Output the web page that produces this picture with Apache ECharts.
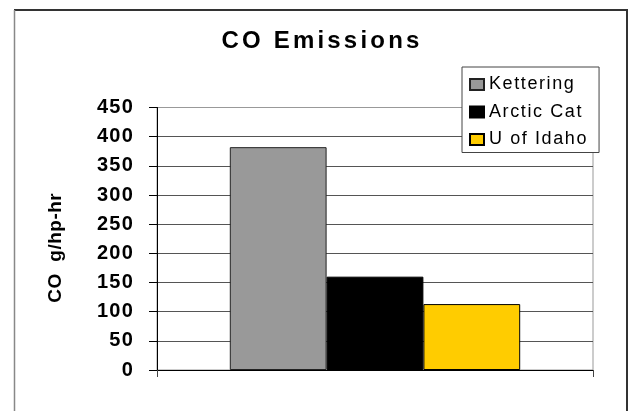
<!DOCTYPE html>
<html>
<head>
<meta charset="utf-8">
<script src="https://cdn.jsdelivr.net/npm/echarts@6/dist/echarts.min.js"></script>
<style>
  html, body { margin: 0; padding: 0; background: #fff; }
  #chart { width: 630px; height: 411px; }
</style>
</head>
<body>
<div id="chart"></div>
<script>
// ---- data ----
const categories = [''];
const seriesNames = ['Kettering', 'Arctic Cat', 'U of Idaho'];
const kettering = [382];
const arcticCat = [160];
const uOfIdaho = [113];
const yTicks = { min: 0, max: 450, interval: 50 };
const titleText = 'CO Emissions';
const yAxisName = 'CO  g/hp-hr';

// letter spacing to mimic the stretched look of the original (by font size)
const SPACING = { 24: 3.2, 18: 1.6, 20: 1.2, 19: 0.5 };
const origFill = CanvasRenderingContext2D.prototype.fillText;
CanvasRenderingContext2D.prototype.fillText = function (t, x, y, w) {
  const m = /(\d+(?:\.\d+)?)px/.exec(this.font);
  const s = m ? parseFloat(m[1]) : 0;
  if ('letterSpacing' in this) this.letterSpacing = (SPACING[s] || 0) + 'px';
  return w === undefined ? origFill.call(this, t, x, y) : origFill.call(this, t, x, y, w);
};

const FONT = 'Liberation Sans, Arial, sans-serif';
const chart = echarts.init(document.getElementById('chart'), null, { renderer: 'canvas' });

const gridColors = ['#555', '#555', '#555', '#555', '#555', '#555', '#555', '#555', '#555', '#999'];

chart.setOption({
  animation: false,
  backgroundColor: '#fff',
  title: {
    text: titleText,
    left: 322,
    textAlign: 'center',
    top: 29,
    padding: 0,
    textStyle: { fontFamily: FONT, fontSize: 24, fontWeight: 'bold', color: '#000' }
  },
  legend: {
    data: seriesNames,
    orient: 'vertical',
    left: 462,
    top: 67,
    itemWidth: 14,
    itemHeight: 11,
    itemGap: 9.5,
    padding: [8.5, 27, 4, 7],
    backgroundColor: '#fff',
    borderColor: '#444',
    borderWidth: 1,
    borderRadius: 0,
    icon: 'rect',
    textStyle: { fontFamily: FONT, fontSize: 18, color: '#000' }
  },
  grid: {
    left: 157, right: 37, top: 107.5, bottom: 41,
    show: true, borderColor: '#999', borderWidth: 1,
    containLabel: false, outerBoundsMode: 'none'
  },
  xAxis: {
    type: 'category',
    data: categories,
    boundaryGap: true,
    axisLine: { show: true, lineStyle: { color: '#000', width: 1 } },
    axisTick: { show: true, length: 7, alignWithLabel: false, lineStyle: { color: '#444' } },
    axisLabel: { show: false },
    splitLine: { show: false }
  },
  yAxis: {
    type: 'value',
    min: yTicks.min, max: yTicks.max, interval: yTicks.interval,
    name: yAxisName,
    nameLocation: 'middle',
    nameGap: 92,
    nameRotate: 90,
    nameTextStyle: { fontFamily: FONT, fontSize: 19, fontWeight: 'bold', color: '#000', padding: [0, 18, 0, 0] },
    axisLine: { show: true, lineStyle: { color: '#000', width: 1 } },
    axisTick: { show: true, inside: false, length: 8, lineStyle: { color: '#000' } },
    axisLabel: { fontFamily: FONT, fontSize: 20, fontWeight: 'bold', color: '#000', margin: 23 },
    splitLine: { show: true, lineStyle: { color: gridColors, width: 1 } }
  },
  series: [
    {
      name: seriesNames[0], type: 'bar', data: kettering,
      barGap: '0%', barCategoryGap: '33.4%',
      itemStyle: { color: '#999999', borderColor: '#222', borderWidth: 1 }
    },
    {
      name: seriesNames[1], type: 'bar', data: arcticCat,
      barGap: '0%', barCategoryGap: '33.4%',
      itemStyle: { color: '#000000', borderColor: '#000', borderWidth: 1 }
    },
    {
      name: seriesNames[2], type: 'bar', data: uOfIdaho,
      barGap: '0%', barCategoryGap: '33.4%',
      itemStyle: { color: '#FFCC00', borderColor: '#000', borderWidth: 1 }
    }
  ],
  graphic: [
    { type: 'line', silent: true, shape: { x1: 14, y1: 10, x2: 628, y2: 10 }, style: { stroke: '#333', lineWidth: 2 } },
    { type: 'line', silent: true, shape: { x1: 627, y1: 10, x2: 627, y2: 420 }, style: { stroke: '#333', lineWidth: 2 } },
    { type: 'line', silent: true, shape: { x1: 14.5, y1: 10, x2: 14.5, y2: 420 }, style: { stroke: '#888', lineWidth: 1.5 } }
  ]
});
</script>
</body>
</html>
